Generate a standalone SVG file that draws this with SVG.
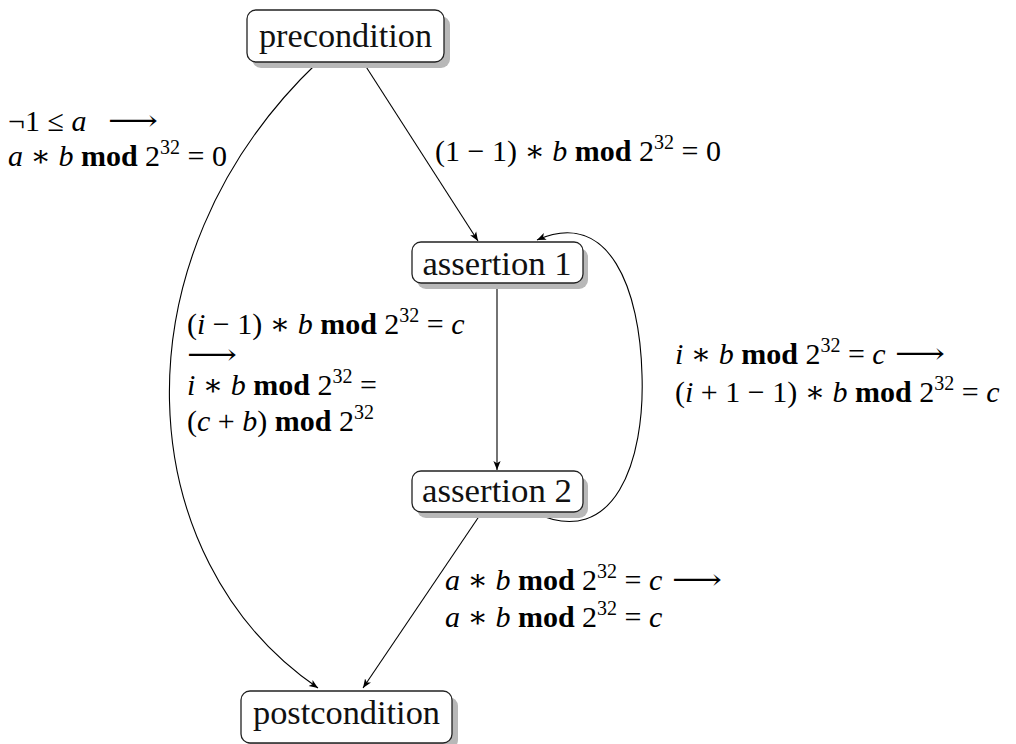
<svg xmlns="http://www.w3.org/2000/svg" width="1016" height="744" viewBox="0 0 1016 744">
<style>
.box{fill:#fff;stroke:#222;stroke-width:1.3}
.sh{fill:#b8b8b8}
.nt{font-family:"Liberation Serif","DejaVu Serif",serif;font-size:33px;fill:#111;text-anchor:middle}
.m{font-family:"Liberation Serif","DejaVu Serif",serif;font-size:30px;fill:#000}
.ar{font-family:"Liberation Serif","DejaVu Serif",serif;font-size:28px;fill:#000}
.i{font-style:italic}
.b{font-weight:bold}
.e{fill:none;stroke:#000;stroke-width:1.1}
</style>
<defs>
<marker id="ah" viewBox="0 0 10 10" refX="10" refY="5" markerWidth="9" markerHeight="9" markerUnits="userSpaceOnUse" orient="auto">
<path d="M0,1 L10,5 L0,9 L2.5,5 Z" fill="#000"/>
</marker>
</defs>
<g id="connectors">
<path class="e" d="M363,62 L478,241" marker-end="url(#ah)"/>
<path class="e" d="M318,62 C110,260 130,560 318,688" marker-end="url(#ah)"/>
<path class="e" d="M497,283 L497,470" marker-end="url(#ah)"/>
<path class="e" d="M482,512 L363,688" marker-end="url(#ah)"/>
<path class="e" d="M535,513 C615,550 645,460 642,375 C640,290 610,208 537,240" marker-end="url(#ah)"/>
</g>
<g id="precondition">
<rect class="sh" x="252" y="16" width="198" height="52" rx="9"/>
<rect class="box" x="247" y="10" width="197" height="52" rx="9"/>
<text class="nt" x="345.5" y="47" textLength="173" lengthAdjust="spacingAndGlyphs">precondition</text>
</g>
<g id="assertion1">
<rect class="sh" x="417" y="248" width="171" height="41" rx="9"/>
<rect class="box" x="412" y="242" width="171" height="41" rx="9"/>
<text class="nt" x="497" y="275" textLength="149" lengthAdjust="spacingAndGlyphs">assertion 1</text>
</g>
<g id="assertion2">
<rect class="sh" x="417" y="477" width="171" height="41" rx="9"/>
<rect class="box" x="412" y="471" width="171" height="41" rx="9"/>
<text class="nt" x="497" y="502" textLength="150" lengthAdjust="spacingAndGlyphs">assertion 2</text>
</g>
<g id="postcondition">
<rect class="sh" x="247" y="697" width="211" height="52" rx="9"/>
<rect class="box" x="241" y="691" width="211" height="52" rx="9"/>
<text class="nt" x="346.5" y="724" textLength="187" lengthAdjust="spacingAndGlyphs">postcondition</text>
</g>
<g id="labels">
<text class="m" x="8" y="131">¬1 ≤ <tspan class="i">a</tspan></text>
<text class="ar" x="108" y="130" textLength="50" lengthAdjust="spacingAndGlyphs">⟶</text>
<text class="m" x="8" y="166"><tspan class="i">a</tspan> ∗ <tspan class="i">b</tspan> <tspan class="b">mod</tspan> 2<tspan font-size="20" dy="-12">32</tspan><tspan dy="12"> = 0</tspan></text>
<text class="m" x="435" y="161">(1 − 1) ∗ <tspan class="i">b</tspan> <tspan class="b">mod</tspan> 2<tspan font-size="20" dy="-12">32</tspan><tspan dy="12"> = 0</tspan></text>
<text class="m" x="187" y="334">(<tspan class="i">i</tspan> − 1) ∗ <tspan class="i">b</tspan> <tspan class="b">mod</tspan> 2<tspan font-size="20" dy="-12">32</tspan><tspan dy="12"> = </tspan><tspan class="i">c</tspan></text>
<text class="ar" x="187" y="364" textLength="50" lengthAdjust="spacingAndGlyphs">⟶</text>
<text class="m" x="187" y="395"><tspan class="i">i</tspan> ∗ <tspan class="i">b</tspan> <tspan class="b">mod</tspan> 2<tspan font-size="20" dy="-12">32</tspan><tspan dy="12"> =</tspan></text>
<text class="m" x="187" y="431">(<tspan class="i">c</tspan> + <tspan class="i">b</tspan>) <tspan class="b">mod</tspan> 2<tspan font-size="20" dy="-12">32</tspan></text>
<text class="m" x="675" y="364"><tspan class="i">i</tspan> ∗ <tspan class="i">b</tspan> <tspan class="b">mod</tspan> 2<tspan font-size="20" dy="-12">32</tspan><tspan dy="12"> = </tspan><tspan class="i">c</tspan></text>
<text class="ar" x="895" y="363" textLength="50" lengthAdjust="spacingAndGlyphs">⟶</text>
<text class="m" x="675" y="402">(<tspan class="i">i</tspan> + 1 − 1) ∗ <tspan class="i">b</tspan> <tspan class="b">mod</tspan> 2<tspan font-size="20" dy="-12">32</tspan><tspan dy="12"> = </tspan><tspan class="i">c</tspan></text>
<text class="m" x="445" y="590"><tspan class="i">a</tspan> ∗ <tspan class="i">b</tspan> <tspan class="b">mod</tspan> 2<tspan font-size="20" dy="-12">32</tspan><tspan dy="12"> = </tspan><tspan class="i">c</tspan></text>
<text class="ar" x="672" y="589" textLength="50" lengthAdjust="spacingAndGlyphs">⟶</text>
<text class="m" x="445" y="627"><tspan class="i">a</tspan> ∗ <tspan class="i">b</tspan> <tspan class="b">mod</tspan> 2<tspan font-size="20" dy="-12">32</tspan><tspan dy="12"> = </tspan><tspan class="i">c</tspan></text>
</g>
</svg>
